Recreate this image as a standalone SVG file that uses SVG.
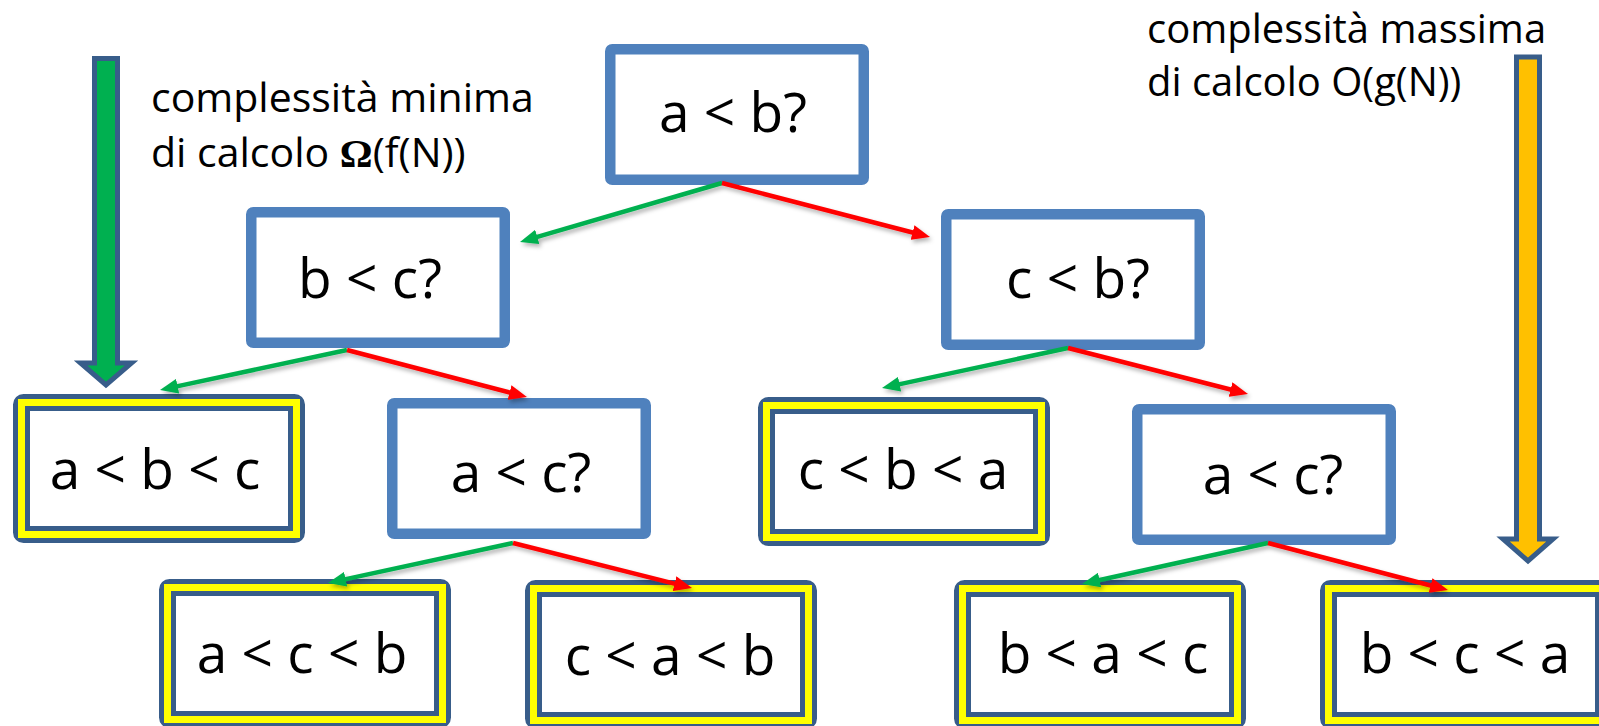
<svg xmlns="http://www.w3.org/2000/svg" width="1599" height="726" viewBox="0 0 1599 726">
  <style>
    .q { fill: #ffffff; stroke: #4F81BD; stroke-width: 10.5; }
    .leafOuter { fill: #ffffff; stroke: #385D8A; stroke-width: 17; }
    .leafBand { fill: none; stroke: #FFFF00; stroke-width: 7; }
    .lbl { font-family: "Open Sans", "Liberation Sans", sans-serif; font-size: 55px; fill: #000000; text-anchor: middle; }
    .note { font-family: "Open Sans", "Liberation Sans", sans-serif; font-size: 41px; fill: #000000; }
    .noteR { font-size: 40px; }
    .omega { font-family: "Liberation Serif", serif; font-weight: bold; }
    .yes { stroke: #00B050; stroke-width: 4.5; fill: none; marker-end: url(#headGreen); }
    .no { stroke: #FF0000; stroke-width: 4.5; fill: none; marker-end: url(#headRed); }
    .bigArrow { stroke: #385D8A; stroke-width: 5; stroke-linejoin: miter; }
  </style>
  <defs>
    <marker id="headGreen" viewBox="0 0 18 15" refX="8" refY="7.5" markerWidth="18" markerHeight="15" markerUnits="userSpaceOnUse" orient="auto">
      <path d="M0,0 L18,7.5 L0,15 Z" fill="#00B050"/>
    </marker>
    <marker id="headRed" viewBox="0 0 18 15" refX="8" refY="7.5" markerWidth="18" markerHeight="15" markerUnits="userSpaceOnUse" orient="auto">
      <path d="M0,0 L18,7.5 L0,15 Z" fill="#FF0000"/>
    </marker>
    <filter id="soft" x="-10%" y="-30%" width="120%" height="160%">
      <feDropShadow dx="2" dy="3" stdDeviation="2" flood-color="#000000" flood-opacity="0.3"/>
    </filter>
  </defs>

  <rect width="1599" height="726" fill="#ffffff"/>

  <!-- side indicators: best case (left) and worst case (right) -->
  <g id="best-case">
    <polygon class="bigArrow" fill="#00B050" points="94.5,58.5 117.5,58.5 117.5,363 131.5,363 106,385 80.5,363 94.5,363"/>
    <text class="note" x="151" y="112">complessità minima</text>
    <text class="note" x="151" y="167">di calcolo <tspan class="omega">Ω</tspan>(f(N))</text>
  </g>
  <g id="worst-case">
    <polygon class="bigArrow" fill="#FFC000" points="1516.5,57 1539.5,57 1539.5,539 1553,539 1528,561 1503,539 1516.5,539"/>
    <text class="note noteR" x="1147" y="43">complessità massima</text>
    <text class="note noteR" x="1147" y="96">di calcolo O(g(N))</text>
  </g>

  <!-- comparison nodes -->
  <g id="q-ab">
    <rect class="q" x="610.25" y="49.25" width="253.5" height="130.5" rx="2"/>
    <text class="lbl" x="733" y="132">a &lt; b?</text>
  </g>
  <g id="q-bc">
    <rect class="q" x="251.25" y="212.25" width="253.5" height="130.5" rx="2"/>
    <text class="lbl" x="370" y="298">b &lt; c?</text>
  </g>
  <g id="q-cb">
    <rect class="q" x="946.25" y="214.25" width="253.5" height="130.5" rx="2"/>
    <text class="lbl" x="1078" y="298">c &lt; b?</text>
  </g>
  <g id="q-ac-left">
    <rect class="q" x="392.25" y="403.25" width="253.5" height="130.5" rx="2"/>
    <text class="lbl" x="521" y="492">a &lt; c?</text>
  </g>
  <g id="q-ac-right">
    <rect class="q" x="1137.25" y="409.25" width="253.5" height="130.5" rx="2"/>
    <text class="lbl" x="1273" y="494">a &lt; c?</text>
  </g>

  <!-- result leaves -->
  <g id="r-abc">
    <rect class="leafOuter" x="21.5" y="402.5" width="275" height="132" rx="2"/>
    <rect class="leafBand" x="21.5" y="402.5" width="275" height="132"/>
    <text class="lbl" x="155" y="489">a &lt; b &lt; c</text>
  </g>
  <g id="r-cba">
    <rect class="leafOuter" x="766.5" y="405.5" width="275" height="132" rx="2"/>
    <rect class="leafBand" x="766.5" y="405.5" width="275" height="132"/>
    <text class="lbl" x="903" y="489">c &lt; b &lt; a</text>
  </g>
  <g id="r-acb">
    <rect class="leafOuter" x="167.5" y="587.5" width="275" height="132" rx="2"/>
    <rect class="leafBand" x="167.5" y="587.5" width="275" height="132"/>
    <text class="lbl" x="302" y="673">a &lt; c &lt; b</text>
  </g>
  <g id="r-cab">
    <rect class="leafOuter" x="533.5" y="588.5" width="275" height="132" rx="2"/>
    <rect class="leafBand" x="533.5" y="588.5" width="275" height="132"/>
    <text class="lbl" x="670" y="675">c &lt; a &lt; b</text>
  </g>
  <g id="r-bac">
    <rect class="leafOuter" x="962.5" y="588.5" width="275" height="132" rx="2"/>
    <rect class="leafBand" x="962.5" y="588.5" width="275" height="132"/>
    <text class="lbl" x="1103" y="673">b &lt; a &lt; c</text>
  </g>
  <g id="r-bca">
    <rect class="leafOuter" x="1328.5" y="588.5" width="275" height="132" rx="2"/>
    <rect class="leafBand" x="1328.5" y="588.5" width="275" height="132"/>
    <text class="lbl" x="1465" y="673">b &lt; c &lt; a</text>
  </g>

  <!-- decision edges drawn over the boxes: green = true, red = false -->
  <g id="connectors" filter="url(#soft)">
    <line class="yes" x1="722" y1="183" x2="529.6" y2="239.2"/>
    <line class="no" x1="722" y1="183" x2="920.3" y2="234.5"/>
    <line class="yes" x1="347" y1="350" x2="169.8" y2="387.9"/>
    <line class="no" x1="347" y1="350" x2="517.3" y2="394.5"/>
    <line class="yes" x1="1068" y1="348" x2="891.8" y2="385.9"/>
    <line class="no" x1="1068" y1="348" x2="1238.3" y2="391.5"/>
    <line class="yes" x1="513" y1="543" x2="337.8" y2="580.9"/>
    <line class="no" x1="513" y1="543" x2="682.3" y2="585.6"/>
    <line class="yes" x1="1268" y1="543" x2="1091.8" y2="581.8"/>
    <line class="no" x1="1268" y1="543" x2="1438.3" y2="587.5"/>
  </g>
</svg>
